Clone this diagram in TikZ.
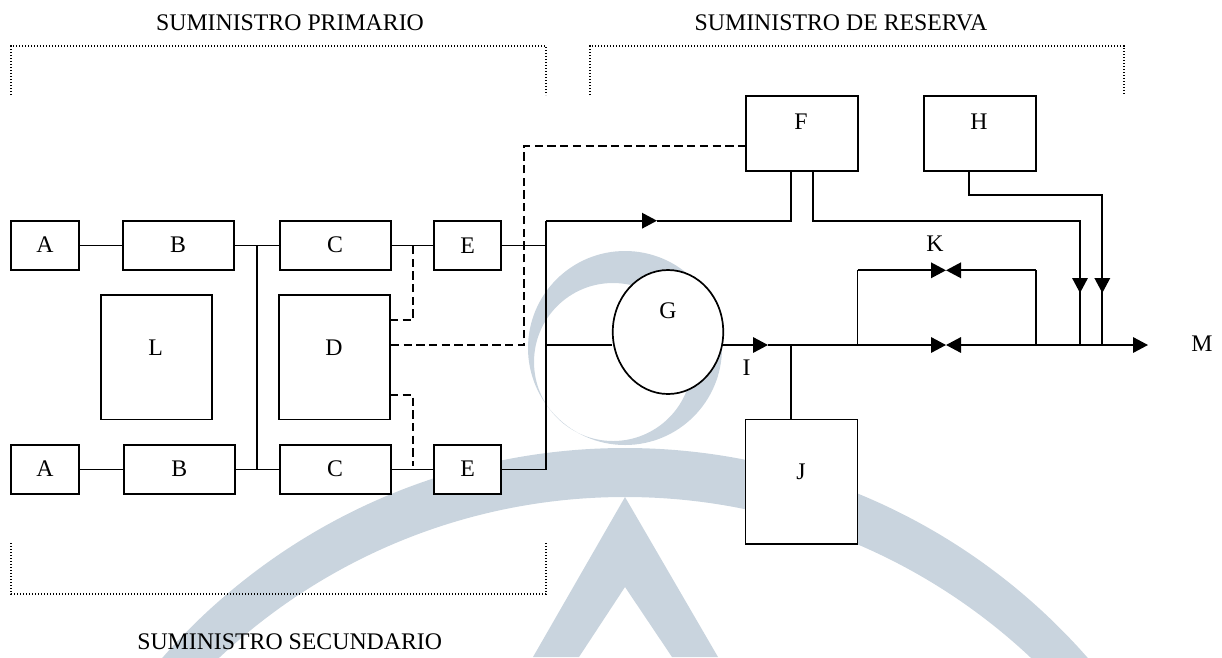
\documentclass[tikz,border=0pt]{standalone}
\usepackage{fontspec}
\setmainfont{Liberation Serif}
\usetikzlibrary{arrows.meta,shapes.geometric}
\definecolor{wm}{HTML}{C9D4DE}
\tikzset{
  boxn/.style={draw=black,fill=white,line width=1.7pt,rectangle,inner sep=0pt,minimum width=#1},
  lab/.style={inner sep=0pt,font=\fontsize{23.8}{28}\selectfont,text=black},
  conn/.style={draw=black,line width=1.7pt,line join=miter},
  dashc/.style={draw=black,line width=1.6pt,dash pattern=on 8.3pt off 4.4pt},
  dotc/.style={draw=black,line width=1.2pt,dash pattern=on 1.2pt off 1.8pt},
  arrc/.style={conn,-{Triangle[length=15pt,width=15.5pt]}}
}
\begin{document}
\begin{tikzpicture}[x=1pt,y=-1pt]
\useasboundingbox (0,0) rectangle (1222,657);
% watermark
\begin{scope}
\clip (0,0) rectangle (1222,657);
\fill[wm,even odd rule] (625,348) circle (97) (613,362) circle (79);
\fill[wm,even odd rule] (625,1063) circle (615) (625,1089.6) circle (592.6);
\fill[wm] (625,497) -- (533,657) -- (579,657) -- (625,587) -- (672,657) -- (718,657) -- cycle;
\end{scope}
% titles
\node[lab] (tp) at (290,23) {SUMINISTRO PRIMARIO};
\node[lab] (tr) at (841,23) {SUMINISTRO DE RESERVA};
\node[lab] (ts) at (289.7,642) {SUMINISTRO SECUNDARIO};
% dotted brackets
\coordinate (p1) at (11,95); \coordinate (p2) at (11,46); \coordinate (p3) at (546,46); \coordinate (p4) at (546,95);
\coordinate (r1) at (590,95); \coordinate (r2) at (590,46); \coordinate (r3) at (1124,46); \coordinate (r4) at (1124,95);
\coordinate (s1) at (11,543); \coordinate (s2) at (11,594); \coordinate (s3) at (546,594); \coordinate (s4) at (546,543);
\draw[dotc] (p1) -- (p2) -- (p3) -- (p4);
\draw[dotc] (r1) -- (r2) -- (r3) -- (r4);
\draw[dotc] (s1) -- (s2) -- (s3) -- (s4);
% boxes
\node[boxn=68pt,minimum height=49.5pt] (A1) at (45,245.5) {};
\node[boxn=111pt,minimum height=49.5pt] (B1) at (178.5,245.5) {};
\node[boxn=111pt,minimum height=49.5pt] (C1) at (335.5,245.5) {};
\node[boxn=67pt,minimum height=49.5pt] (E1) at (467.5,245.5) {};
\node[boxn=111pt,minimum height=124.5pt] (L) at (156.5,357.2) {};
\node[boxn=111pt,minimum height=124.5pt] (D) at (334.5,357.2) {};
\node[boxn=68pt,minimum height=49.5pt] (A2) at (45,469.5) {};
\node[boxn=111pt,minimum height=49.5pt] (B2) at (179.5,469.5) {};
\node[boxn=111pt,minimum height=49.5pt] (C2) at (335.5,469.5) {};
\node[boxn=67pt,minimum height=49.5pt] (E2) at (467.5,469.5) {};
\node[boxn=112pt,minimum height=75pt] (F) at (802,133.5) {};
\node[boxn=112pt,minimum height=75pt] (H) at (980,133.5) {};
\node[boxn=112pt,minimum height=124.5pt] (J) at (801.5,481.7) {};
\node[draw=black,fill=white,line width=1.7pt,ellipse,inner sep=0pt,minimum width=110.5pt,minimum height=124pt] (G) at (668,332) {};
% labels in place
\node[lab] at (45,245) {A}; \node[lab] at (178,245) {B}; \node[lab] at (335,245) {C}; \node[lab] at (467.7,245.5) {E};
\node[lab] at (155.7,348) {L}; \node[lab] at (334,348) {D};
\node[lab] at (45,469) {A}; \node[lab] at (179.3,469) {B}; \node[lab] at (335,469) {C}; \node[lab] at (467.7,469) {E};
\node[lab] at (801,121.7) {F}; \node[lab] at (979,121.7) {H}; \node[lab] at (668,311) {G};
\node[lab] at (801,471.5) {J}; \node[lab] (lI) at (746.7,368) {I}; \node[lab] (lK) at (935,244) {K}; \node[lab] (lM) at (1202,344) {M};
% top-left connectors
\coordinate (j1) at (256.7,245.5); \coordinate (j2) at (256.7,469.5);
\coordinate (bus1) at (546,220.7); \coordinate (bus2) at (546,245.5); \coordinate (bus3) at (546,345); \coordinate (bus4) at (546,469.5);
\draw[conn] (A1.east) -- (B1.west);
\draw[conn] (A2.east) -- (B2.west);
\draw[conn] (B1.east) -- (C1.west);
\draw[conn] (B2.east) -- (C2.west);
\draw[conn] (j1) -- (j2);
\draw[conn] (C1.east) -- (E1.west);
\draw[conn] (C2.east) -- (E2.west);
\draw[conn] (E1.east) -- (bus2);
\draw[conn] (E2.east) -- (bus4) -- (bus1);
\draw[conn] (bus3) -- (G.west |- bus3);
% dashed control lines
\coordinate (d1) at (390,320); \coordinate (d2) at (413,320); \coordinate (d3) at (413,245);
\coordinate (d4) at (390,395); \coordinate (d5) at (412.8,395); \coordinate (d6) at (412.8,466);
\coordinate (d7) at (524,345); \coordinate (d8) at (524,146); \coordinate (d9) at (746,146);
\draw[dashc] (d1) -- (d2) -- (d3);
\draw[dashc] (d4) -- (d5) -- (d6);
\draw[dashc] (d7 -| D.east) -- (d7) -- (d8) -- (d9);
% F and H feeds
\coordinate (tt1) at (657,220.7); \coordinate (f1) at (790.7,220.7); \coordinate (f1u) at (790.7,171);
\coordinate (f2u) at (813,171); \coordinate (f2) at (813,220.7); \coordinate (f3) at (1080,220.7); \coordinate (f4) at (1080,293); \coordinate (f5) at (1080,345);
\coordinate (h1) at (968.7,171); \coordinate (h2) at (968.7,195.3); \coordinate (h3) at (1102.3,195.3); \coordinate (h4) at (1102.3,293); \coordinate (h5) at (1102.3,345);
\draw[arrc] (bus1) -- (tt1);
\draw[conn] (tt1) -- (f1) -- (f1u);
\draw[conn] (f2u) -- (f2) -- (f3) -- (f5);
\draw[arrc] (f3) -- (f4);
\draw[conn] (h1) -- (h2) -- (h3) -- (h5);
\draw[arrc] (h3) -- (h4);
% main line
\coordinate (g1) at (722,345); \coordinate (i1) at (768,345); \coordinate (jj) at (791,345); \coordinate (lp1) at (857.5,345); \coordinate (lp2) at (857.5,270.3);
\coordinate (v1) at (946,270.3); \coordinate (v2) at (946,345); \coordinate (rp1) at (1035.7,270.3); \coordinate (rp2) at (1035.7,345); \coordinate (out) at (1148,345);
\draw[arrc] (g1) -- (i1);
\draw[conn] (i1) -- (jj) -- (lp1);
\draw[conn] (jj) -- (jj |- J.north);
\draw[conn] (lp1) -- (lp2);
\draw[arrc] (lp2) -- (v1);
\draw[arrc] (rp1) -- (v1);
\draw[arrc] (lp1) -- (v2);
\draw[arrc] (rp2) -- (v2);
\draw[conn] (rp1) -- (rp2);
\draw[arrc] (rp2) -- (out);
\end{tikzpicture}
\end{document}
